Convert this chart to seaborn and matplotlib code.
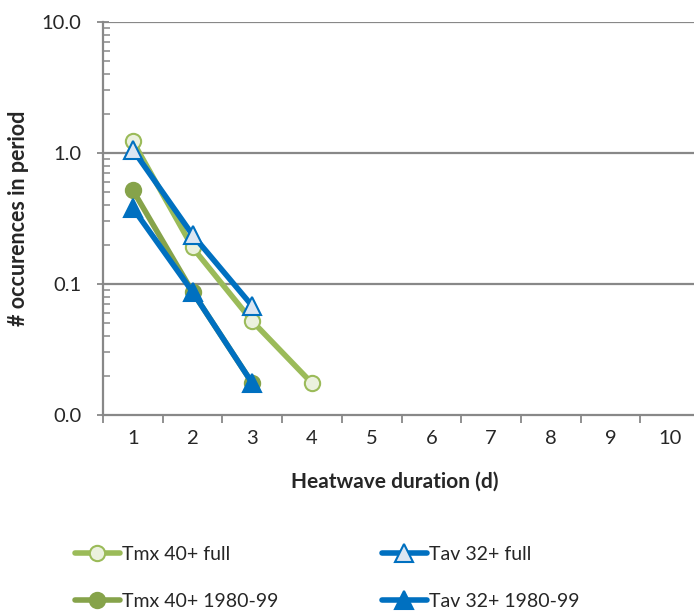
import numpy as np
import pandas as pd
import matplotlib
matplotlib.use("Agg")
import matplotlib.pyplot as plt
from matplotlib.ticker import FixedLocator, FixedFormatter, NullFormatter
import seaborn as sns

sns.set_theme(style="white")
plt.rcParams["font.family"] = ["Lato", "DejaVu Sans"]

# Heatwave frequency by duration (days)
tmx_full_days = [1, 2, 3, 4]
tmx_full = [1.23, 0.19, 0.052, 0.0175]
tmx_8099_days = [1, 2, 3]
tmx_8099 = [0.52, 0.087, 0.0175]
tav_full_days = [1, 2, 3]
tav_full = [1.06, 0.237, 0.068]
tav_8099_days = [1, 2, 3]
tav_8099 = [0.38, 0.087, 0.0175]

x_labels = ["1", "2", "3", "4", "5", "6", "7", "8", "9", "10"]
y_ticks = [0.01, 0.1, 1.0, 10.0]
y_labels = ["0.0", "0.1", "1.0", "10.0"]

LIGHT_GREEN = "#9BBB59"
DARK_GREEN = "#86A34A"
BLUE = "#0070C0"
GRID = "#888888"

fig = plt.figure(figsize=(6.94, 6.13), dpi=100)
ax = fig.add_axes([103 / 694, 1 - 415 / 613, 597 / 694, 393 / 613])

series = [
    ("Tmx 40+ full", tmx_full_days, tmx_full, LIGHT_GREEN, "o", "#EBF1DE", LIGHT_GREEN, 11),
    ("Tmx 40+ 1980-99", tmx_8099_days, tmx_8099, DARK_GREEN, "o", DARK_GREEN, DARK_GREEN, 11),
    ("Tav 32+ full", tav_full_days, tav_full, BLUE, "^", "#DCE6F2", BLUE, 13),
    ("Tav 32+ 1980-99", tav_8099_days, tav_8099, BLUE, "^", BLUE, BLUE, 13),
]

handles = []
for name, xs, ys, color, mk, mfc, mec, ms in series:
    df = pd.DataFrame({"duration": xs, "occ": ys})
    sns.lineplot(data=df, x="duration", y="occ", ax=ax, color=color, lw=4,
                 marker=mk, markersize=ms, markerfacecolor=mfc,
                 markeredgecolor=mec, markeredgewidth=1.5, label=name,
                 legend=False)
    handles.append(ax.lines[-1])

ax.set_yscale("log")
ax.set_ylim(0.01, 10)
ax.set_xlim(0.5, 10.5)

ax.yaxis.set_major_locator(FixedLocator(y_ticks))
ax.yaxis.set_major_formatter(FixedFormatter(y_labels))
minor = [m * 10.0 ** e for e in (-2, -1, 0) for m in range(2, 10)]
ax.yaxis.set_minor_locator(FixedLocator(minor))
ax.yaxis.set_minor_formatter(NullFormatter())

ax.xaxis.set_major_locator(FixedLocator(np.arange(1, 11)))
ax.xaxis.set_major_formatter(FixedFormatter(x_labels))
ax.xaxis.set_minor_locator(FixedLocator(np.arange(0.5, 11, 1.0)))

ax.tick_params(axis="y", which="major", direction="inout", length=9, width=1.3,
               color=GRID, labelsize=14.5, pad=11, left=True)
ax.tick_params(axis="y", which="minor", direction="in", length=5, width=1.1,
               color=GRID, left=True)
ax.tick_params(axis="x", which="major", length=0, labelsize=14.5, pad=11, bottom=True)
ax.tick_params(axis="x", which="minor", direction="out", length=6, width=1.3,
               color=GRID, bottom=True)

ax.grid(False)
for yv in y_ticks[1:]:
    ax.axhline(yv, color=GRID, lw=1.6, zorder=0.5)

for side in ("top", "right"):
    ax.spines[side].set_visible(False)
for side in ("left", "bottom"):
    ax.spines[side].set_color(GRID)
    ax.spines[side].set_linewidth(1.6)

ax.set_xlabel("Heatwave duration (d)", fontsize=15, fontweight="bold")
ax.set_ylabel("# occurences in period", fontsize=15.5, fontweight="bold")
ax.xaxis.set_label_coords((395 - 103) / 597, -57 / 393)
ax.yaxis.set_label_coords((29 - 103) / 597, 0.5)

legend_kw = dict(loc="upper left", frameon=False, fontsize=14, handlelength=2.3,
                 handletextpad=0.1, labelspacing=1.55, borderaxespad=0,
                 borderpad=0)
leg1 = fig.legend(handles[:2], [h.get_label() for h in handles[:2]],
                  bbox_to_anchor=(75 / 694, 1 - 546 / 613), **legend_kw)
leg2 = fig.legend(handles[2:], [h.get_label() for h in handles[2:]],
                  bbox_to_anchor=(382 / 694, 1 - 546 / 613), **legend_kw)

fig.savefig("out.png", dpi=100)
